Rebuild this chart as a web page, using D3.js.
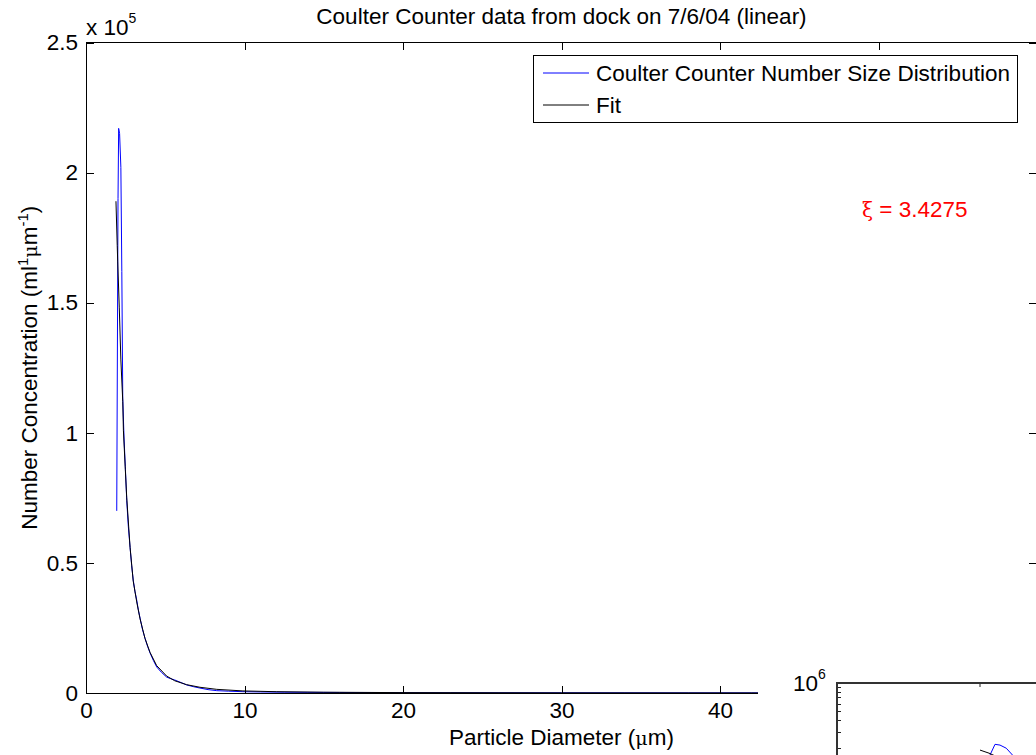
<!DOCTYPE html>
<html lang="en">
  <head>
    <script src="https://d3js.org/d3.v7.min.js"></script>
    <meta charset="UTF-8" />
    <title>Coulter Counter</title>
    <style>
      body { margin: 0; background: #fff; }
      text { font-family: "Liberation Sans", Arial, sans-serif; }
    </style>
  </head>
  <body>
    <svg width="1036" height="755"></svg>
    <script>
      // blue: measured number size distribution (diameter in um, conc in ml^-1 um^-1)
      var diameter = [1.94, 2.02, 2.06, 2.12, 2.2, 2.26, 2.32, 2.4, 2.48, 2.57, 2.67, 2.78, 2.88, 2.98,
        3.09, 3.2, 3.3, 3.41, 3.56, 3.72, 3.88, 4.04, 4.25, 4.46, 4.75, 5.09, 5.35, 5.6, 6.0, 6.35,
        6.8, 7.19, 7.7, 8.25, 9.0, 9.9, 11, 12.5, 14, 16, 18, 20, 23, 26, 30, 34, 38, 42, 46, 50, 55, 60];
      var concentration = [70000, 190000, 217000, 215000, 202000, 162000, 113000, 98000, 87000, 74000,
        64000, 56000, 49000, 43400, 39000, 35700, 32000, 28800, 24500, 21100, 18000, 15400, 12500,
        10000, 8000, 6100, 5500, 5000, 4000, 3100, 2400, 1900, 1300, 900, 700, 500, 400, 300, 250,
        200, 150, 120, 100, 90, 80, 70, 60, 50, 40, 40, 30, 30];
      // black: fit
      var fitDiameter = [1.89, 1.97, 2.0, 2.1, 2.2, 2.32, 2.36, 2.48, 2.57, 2.78, 2.98, 3.2, 3.41, 3.72,
        4.04, 4.46, 5.09, 5.6, 6.35, 7.19, 8.25, 9.9, 12, 15, 20, 30, 40, 50, 60];
      var fitConcentration = [189000, 172000, 166000, 148000, 128000, 112000, 101000, 86000, 75000,
        56000, 43000, 35000, 28500, 21000, 15600, 10500, 6500, 4700, 3200, 2200, 1400, 800, 500, 300,
        150, 50, 20, 10, 10];
      var xTicks = [0, 10, 20, 30, 40, 50, 60];
      var yTicks = [0, 50000, 100000, 150000, 200000, 250000];
      var xi = 3.4275;

      // inset (log y) - zoomed on the peak
      var insetDiameter = [2.0, 2.04, 2.06, 2.08, 2.105, 2.13];
      var insetConcentration = [110000, 168000, 219000, 215000, 199000, 168000];
      var insetFitDiameter = [2.0, 2.036, 2.07];
      var insetFitConcentration = [190000, 176000, 160000];
      var insetXTicks = [2];
      var insetYMin = 100000, insetYMax = 1000000;

      var svg = d3.select("svg");
      svg.append("rect").attr("width", 1036).attr("height", 755).attr("fill", "#fff");

      var fs = "22.5px";
      var pLeft = 86, pRight = 1037, pTop = 42.5, pBottom = 693;
      var insetEdge = 758; // the inset figure hides everything right of this at the bottom
      var x = d3.scaleLinear().domain([0, 60]).range([pLeft, pRight]);
      var y = d3.scaleLinear().domain([0, 250000]).range([pBottom, pTop]);

      svg.append("defs").append("clipPath").attr("id", "plotClip")
        .append("rect").attr("x", pLeft).attr("y", pTop).attr("width", pRight - pLeft).attr("height", pBottom - pTop);

      var line = d3.line()
        .x(function (d) { return x(d[0]); })
        .y(function (d) { return y(d[1]); });

      var plot = svg.append("g").attr("clip-path", "url(#plotClip)");
      plot.append("path")
        .datum(d3.zip(diameter, concentration))
        .attr("d", line)
        .attr("fill", "none")
        .attr("stroke", "#0000ff")
        .attr("stroke-width", 1);
      plot.append("path")
        .datum(d3.zip(fitDiameter, fitConcentration))
        .attr("d", line)
        .attr("fill", "none")
        .attr("stroke", "#000")
        .attr("stroke-width", 1);

      // axes (ticks point inward, like matlab)
      function styleAxis(g) {
        g.select(".domain").remove();
        g.selectAll("line").attr("stroke", "#000").attr("shape-rendering", "crispEdges");
        g.selectAll("text").attr("font-size", fs).attr("fill", "#000")
          .style("font-family", "'Liberation Sans', Arial, sans-serif");
      }
      svg.append("g")
        .attr("transform", "translate(0," + pBottom + ")")
        .call(d3.axisBottom(x).tickValues(xTicks).tickSize(-7).tickPadding(9)
          .tickFormat(function (d) { return x(d) < insetEdge ? d : ""; }))
        .call(styleAxis);
      svg.append("g")
        .attr("transform", "translate(0," + pTop + ")")
        .call(d3.axisTop(x).tickValues(xTicks).tickSize(-7).tickFormat(""))
        .call(styleAxis);
      svg.append("g")
        .attr("transform", "translate(" + pLeft + ",0)")
        .call(d3.axisLeft(y).tickValues(yTicks).tickSize(-8).tickPadding(8)
          .tickFormat(function (d) { return d / 100000; }))
        .call(styleAxis);
      svg.append("g")
        .attr("transform", "translate(" + pRight + ",0)")
        .call(d3.axisRight(y).tickValues(yTicks).tickSize(-8).tickFormat(""))
        .call(styleAxis);
      svg.append("rect")
        .attr("x", pLeft).attr("y", pTop)
        .attr("width", pRight - pLeft).attr("height", pBottom - pTop)
        .attr("fill", "none").attr("stroke", "#000").attr("shape-rendering", "crispEdges");

      // exponent
      var expo = svg.append("text").attr("x", 86).attr("y", 35).attr("font-size", fs);
      expo.append("tspan").text("x 10");
      expo.append("tspan").attr("font-size", "14px").attr("dy", -12).text("5");

      // title + labels
      svg.append("text")
        .attr("x", (pLeft + pRight) / 2).attr("y", 24)
        .attr("text-anchor", "middle").attr("font-size", fs)
        .text("Coulter Counter data from dock on 7/6/04 (linear)");

      var xl = svg.append("text")
        .attr("x", (pLeft + pRight) / 2).attr("y", 745)
        .attr("text-anchor", "middle").attr("font-size", fs);
      xl.append("tspan").text("Particle Diameter (");
      xl.append("tspan").style("font-family", "'DejaVu Serif', serif").attr("font-size", "19px").text("μ");
      xl.append("tspan").text("m)");

      var yl = svg.append("text")
        .attr("transform", "translate(37," + (pTop + pBottom) / 2 + ") rotate(-90)")
        .attr("text-anchor", "middle").attr("font-size", fs);
      yl.append("tspan").text("Number Concentration (ml");
      yl.append("tspan").attr("font-size", "15px").attr("dy", -9).text("1");
      yl.append("tspan").attr("dy", 9).style("font-family", "'DejaVu Serif', serif").attr("font-size", "19px").text("μ");
      yl.append("tspan").text("m");
      yl.append("tspan").attr("font-size", "15px").attr("dy", -9).text("-1");
      yl.append("tspan").attr("dy", 9).text(")");

      // xi annotation
      var ann = svg.append("text").attr("x", 862).attr("y", 217).attr("font-size", fs).attr("fill", "#ff0000");
      ann.append("tspan").style("font-family", "'DejaVu Serif', serif").attr("font-size", "20px").text("ξ");
      ann.append("tspan").text(" = " + xi);

      // legend
      var legend = svg.append("g");
      legend.append("rect")
        .attr("x", 533).attr("y", 55).attr("width", 484).attr("height", 67)
        .attr("fill", "#fff").attr("stroke", "#000").attr("shape-rendering", "crispEdges");
      var legendItems = [
        { label: "Coulter Counter Number Size Distribution", color: "#0000ff" },
        { label: "Fit", color: "#000" },
      ];
      legendItems.forEach(function (d, i) {
        var ly = 73 + i * 32;
        legend.append("line")
          .attr("x1", 543).attr("x2", 589).attr("y1", ly).attr("y2", ly)
          .attr("stroke", d.color).attr("stroke-width", 1);
        legend.append("text")
          .attr("x", 596).attr("y", ly + 8).attr("font-size", fs)
          .text(d.label);
      });

      // inset axes, bottom right (mostly outside the picture)
      var inL = 837, inT = 683;
      var ix = d3.scaleLinear().domain([2, 2.5]).range([980, 1105]);
      var iy = d3.scaleLog().domain([insetYMin, insetYMax]).range([inT + 93, inT]);
      var inset = svg.append("g");
      inset.append("rect").attr("x", insetEdge).attr("y", 650).attr("width", 300).attr("height", 120).attr("fill", "#fff");
      inset.append("defs").append("clipPath").attr("id", "insetClip")
        .append("rect").attr("x", inL).attr("y", inT).attr("width", 300).attr("height", 120);
      var iline = d3.line()
        .x(function (d) { return ix(d[0]); })
        .y(function (d) { return iy(d[1]); });
      var ip = inset.append("g").attr("clip-path", "url(#insetClip)");
      ip.append("path").datum(d3.zip(insetDiameter, insetConcentration))
        .attr("d", iline).attr("fill", "none").attr("stroke", "#0000ff").attr("stroke-width", 1);
      ip.append("path").datum(d3.zip(insetFitDiameter, insetFitConcentration))
        .attr("d", iline).attr("fill", "none").attr("stroke", "#000").attr("stroke-width", 1);
      var minor = iy.ticks().filter(function (d) { return d < insetYMax; });
      inset.selectAll(".iyt").data(minor).enter().append("line")
        .attr("x1", inL).attr("x2", inL + 4)
        .attr("y1", function (d) { return Math.round(iy(d)) + 0.5; })
        .attr("y2", function (d) { return Math.round(iy(d)) + 0.5; })
        .attr("stroke", "#222");
      inset.selectAll(".ixt").data(insetXTicks).enter().append("line")
        .attr("x1", function (d) { return ix(d); }).attr("x2", function (d) { return ix(d); })
        .attr("y1", inT).attr("y2", inT + 4).attr("stroke", "#222");
      inset.append("path")
        .attr("d", "M" + inL + ",760V" + inT + "H1040")
        .attr("fill", "none").attr("stroke", "#333").attr("stroke-width", 2);
      var ilab = inset.append("text").attr("x", 793).attr("y", 691).attr("font-size", fs);
      ilab.append("tspan").text("10");
      ilab.append("tspan").attr("font-size", "14px").attr("dy", -12).text("6");
    </script>
  </body>
</html>
